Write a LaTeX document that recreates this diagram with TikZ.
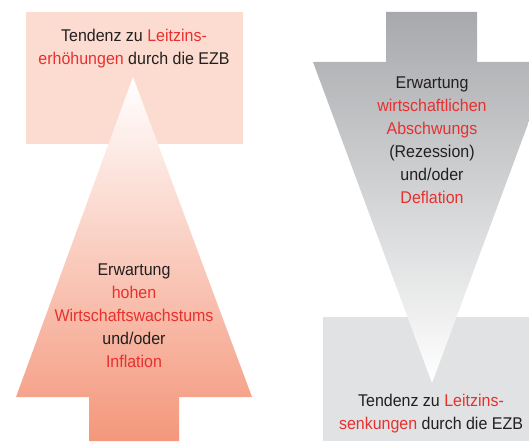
\documentclass[tikz,border=0pt]{standalone}
\usepackage{fontspec}
\setmainfont{Liberation Sans}[FakeStretch=0.94]
\usepackage{tikz}

\definecolor{ezbred}{HTML}{E8302F}
\definecolor{ezbtext}{HTML}{231F20}
\definecolor{risebox}{HTML}{FCDCD0}
\definecolor{risearrow}{HTML}{F4977B}
\definecolor{fallarrow}{HTML}{A7A9AC}
\definecolor{fallbox}{HTML}{E1E2E3}

\newcommand{\hl}[1]{\textcolor{ezbred}{#1}}

\begin{document}
\begin{tikzpicture}[x=1pt, y=-1pt,
  label text/.style={align=center, text=ezbtext,
    font=\fontsize{17}{23}\selectfont}]
  \useasboundingbox (0,0) rectangle (529,441);

  % left: rising arrow
  \fill [risebox] (26,12) rectangle (243,144);
  \shade [top color=white, bottom color=risearrow]
    (133,77) -- (252,397) -- (179,397) -- (179,441)
    -- (89,441) -- (89,397) -- (16,397) -- cycle;

  % right: falling arrow
  \fill [fallbox] (323,317) rectangle (529,441);
  \shade [top color=fallarrow, bottom color=white]
    (386,12) -- (477,12) -- (477,62) -- (551,62)
    -- (432,383) -- (313,62) -- (386,62) -- cycle;

  \node [label text] (hike) at (134,49)
    {Tendenz zu \hl{Leitzins-}\\\hl{erhöhungen} durch die EZB};
  \node [label text] (boom) at (134,316)
    {Erwartung\\\hl{hohen}\\\hl{Wirtschaftswachstums}\\und/oder\\\hl{Inflation}};
  \node [label text] (slump) at (432,140)
    {Erwartung\\\hl{wirtschaftlichen}\\\hl{Abschwungs}\\(Rezession)\\und/oder\\\hl{Deflation}};
  \node [label text] (cut) at (431,414)
    {Tendenz zu \hl{Leitzins-}\\\hl{senkungen} durch die EZB};
\end{tikzpicture}
\end{document}
